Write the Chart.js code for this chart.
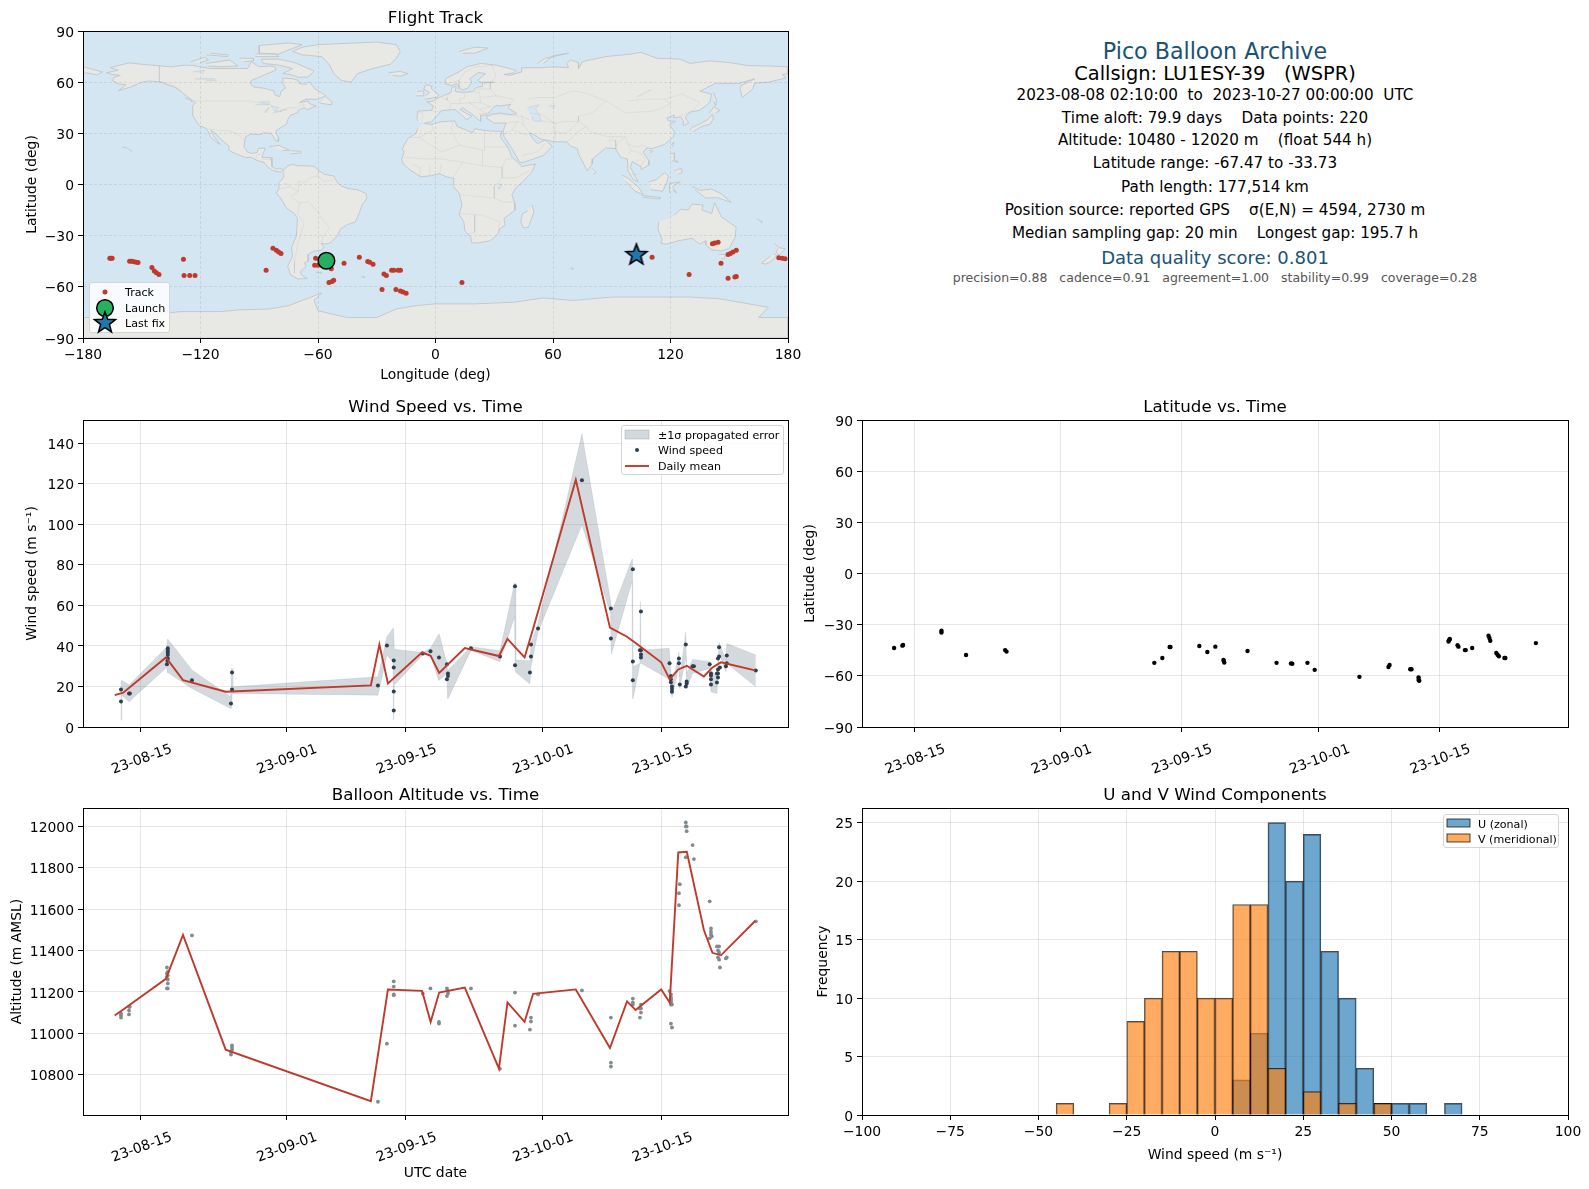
<!DOCTYPE html>
<html><head><meta charset="utf-8">
<script src="https://cdn.jsdelivr.net/npm/chart.js@4"></script>
<style>
html,body{margin:0;padding:0;background:#fff;width:1589px;height:1189px;overflow:hidden;font-family:"DejaVu Sans",sans-serif;color:#000}
canvas{position:absolute}
.t{position:absolute;left:1215px;transform:translate(-50%,-50%);white-space:pre;text-align:center}
.lg{position:absolute;background:rgba(255,255,255,.82);border:1px solid #d5d5d5;border-radius:3px;font-size:11.1px;box-sizing:border-box}
.lg span,.lg svg{position:absolute}
.lg span{white-space:pre;transform:translateY(-50%)}
</style></head><body>
<div id="root"></div>
<script>
// ---------- time axis (days since 2023-08-01) ----------
const dateTickDays = [14, 31, 45, 61, 75];
const dateTickLabels = ['23-08-15', '23-09-01', '23-09-15', '23-10-01', '23-10-15'];

// ---------- daily means ----------
const meanDays = [10.92,11.92,16.92,18.92,23.92,40.92,41.92,42.92,46.92,47.92,48.92,51.92,55.92,56.92,58.92,59.92,64.92,68.92,70.92,71.92,74.92,75.92,76.92,77.92,79.92,80.92,81.92,85.92];
const meanWind = [15.7,16.9,34.3,23.1,17.4,20.5,40.7,21.5,36.8,35.1,26.7,38.9,35,43.5,34.3,48.5,121.9,49,44.5,41.4,31.9,23.5,28.4,30.2,24.9,29.4,31.9,27.9];
const meanAlt = [11086,11115,11263,11475,10921,10672,10942,11212,11205,11055,11197,11221,10829,11149,11055,11191,11212,10929,11154,11113,11212,11149,11874,11877,11499,11389,11377,11543];

// ---------- wind speed samples ----------
const windDays = [11.66,11.66,12.6,12.7,17.14,17.14,17.14,17.14,17.14,17.1,17.04,19.97,24.66,24.66,24.54,41.75,42.8,43.6,43.6,43.6,43.6,47,47.9,48.9,49.83,49.95,49.95,49.83,52.64,56.04,57.8,57.8,59.67,59.67,59.55,60.5,65.64,69.03,69.03,71.6,71.6,71.6,72.55,72.55,72.55,72.55,72.43,75.9,76.06,76.06,76.06,76.18,76.18,76.18,77,77,77.1,77.8,77.8,77.9,77.9,78.6,78.75,80.6,80.75,80.75,80.75,80.75,81.7,81.7,81.57,81.57,81.57,81.57,81.45,81.8,81.45,82.6,82.6,82.5,86];
const windSpeed = [18.5,12.6,16.5,16.5,38.8,37.6,36.6,35.5,33.8,32.7,30.9,23,26.9,18.5,11.6,20.5,40.2,32.8,29.4,17.5,8.1,36.3,37.3,34.3,30.9,26.4,25.1,23.5,38.8,34.8,69.4,30.4,40.7,34.8,26.9,48.6,121.7,58.5,43.7,77.8,32.3,23,57,37.8,35.8,34.3,37.8,31.4,25.1,23.5,22.1,20,18.7,17.4,33.8,31.4,21,40.7,20,22.5,21.5,29.9,29.9,30.9,26.4,25.4,23.5,21,39.3,34.8,33.8,28.4,26.4,24.4,22,29.4,26.4,35.3,31.4,29.9,27.9];

// ---------- +/- 1 sigma band ----------
const bandDays = [11.6,11.72,11.76,12.6,17,17.1,17.18,19.97,24.5,24.6,24.68,24.76,41.75,42.8,43.5,43.58,43.66,47,47.9,48.85,48.93,49.83,49.9,49.98,52.64,56.04,57.75,57.82,57.88,59.55,59.67,60.5,65.64,69,69.08,71.5,71.56,71.64,72.42,72.48,72.56,75.85,76.06,76.18,77,77.1,77.8,77.9,78.6,80.6,80.75,81.45,81.7,82.5,82.6,86];
const bandHigh = [21.5,23.1,23.1,20.7,39.3,43.2,43.2,28.1,14.9,28.9,28.9,19.8,24.8,44.5,48.6,48.6,38.4,36.8,38.8,45.8,45.8,31.4,28.1,28.1,39.6,37.6,70.9,70.9,33,32.7,41.2,51.1,144.6,61.8,56,82.7,82.7,29.7,31.4,61.8,37.9,38.8,26.4,19.8,37.1,24.8,46.7,26.4,33.3,32.2,28.1,24.8,41.7,33,41.2,35.5];
const bandLow = [3.4,3.4,15.7,12.4,29.4,26.7,26.7,19,9.1,9.1,16.5,16.5,15.7,35.5,32,3.4,20.7,35.5,35.5,23.1,23.1,26.4,14.1,14.1,37.9,32.2,54.4,27.2,27.2,21.2,29.7,47,99.7,56,35.8,71.7,14.1,14.1,30.9,31.4,31.4,23.5,19.8,14.6,29.7,19,34.7,19,26.4,28.9,17.4,16.5,36.3,27.2,31.4,19.8];

// ---------- altitude samples ----------
const altDays = [11.66,11.66,11.66,12.6,12.7,12.6,12.6,17.04,17.14,17.04,17.14,17.04,17.14,17.14,17.04,17.14,19.97,24.66,24.66,24.66,24.54,24.54,41.75,42.8,43.6,43.6,43.6,43.6,47,47.9,48.9,48.9,49.83,49.95,49.95,49.83,52.64,56.04,57.8,57.8,59.67,59.67,59.55,60.5,65.64,69.03,69.03,69.03,71.6,71.6,71.6,72.55,72.43,72.55,72.55,72.43,75.9,76.06,76.06,76.06,76.06,76.06,76.06,76.18,76.06,76.18,77,77,77.1,77.8,77.9,77.8,77.9,77.8,78.6,78.75,80.6,80.75,80.75,80.75,80.85,80.6,81.45,81.7,81.57,81.7,81.57,81.7,81.8,82.5,82.6,86];
const altMeters = [11096,11087,11076,11128,11128,11110,11091,11318,11297,11289,11280,11273,11260,11241,11217,11217,11473,10942,10931,10921,10910,10897,10669,10950,11251,11226,11188,11184,11192,11217,11055,11047,11217,11204,11192,11180,11217,10829,11197,11037,11076,11057,11018,11188,11207,11076,10858,10839,11168,11149,11139,11139,11120,11120,11100,11076,11204,11188,11173,11165,11155,11149,11139,11139,11047,11028,11677,11619,11721,12019,12000,12000,11977,11851,11910,11842,11638,11507,11491,11478,11469,11459,11420,11420,11401,11391,11367,11356,11318,11362,11367,11541];

// ---------- latitude samples ----------
const latDays = [11.64,12.6,12.68,17.14,17.14,20,24.54,24.7,41.87,42.8,43.65,43.75,47.1,48.03,48.96,49.9,49.95,50,52.7,56.07,57.75,57.9,59.66,60.5,65.7,69.07,69.2,71.6,71.75,72.57,72.57,72.65,76.05,76.1,76.15,76.2,77.1,77.2,77.95,78.05,78.8,80.7,80.8,80.9,81.6,81.75,81.9,82.55,82.65,86.2];
const latDeg = [-43.7,-42.3,-41.9,-33.6,-34.6,-47.8,-44.9,-45.8,-52.4,-49.5,-43.1,-43.1,-42.5,-46,-42.9,-50.7,-51.3,-52.2,-45.4,-52.4,-52.7,-52.9,-52.4,-56.5,-60.6,-54.8,-53.6,-56.1,-56.1,-61,-62.4,-62.9,-39.9,-39.2,-38.8,-38.4,-42.1,-42.9,-44.9,-44.9,-43.7,-36.5,-37.8,-39.4,-46.6,-47.6,-48.5,-49.5,-49.5,-40.8];

// ---------- histogram ----------
const binStarts = [-45,-30,-25,-20,-15,-10,-5,0,5,10,15,20,25,30,35,40,45,50,55,65];
const uCounts = [0,0,0,0,0,0,0,0,3,7,25,20,24,14,10,4,1,1,1,1];
const vCounts = [1,1,8,10,14,14,10,10,18,18,4,0,2,0,1,0,1,0,0,0];

// ---------- flight track ----------
const trackLon = [-166.3,-165.7,-165.1,-156.2,-155.1,-153.9,-152.8,-151.9,-144.8,-143.6,-142.5,-141.2,-128.7,-128.4,-125.5,-122.8,-86.5,-83,-81.3,-80.1,-78.9,-61.2,-61.7,-60,-58.3,-56.6,-53.2,-46.7,-54.4,-52.8,-52,-38.9,-34.6,-33.6,-31.9,-26.3,-25.1,-22.4,-21.3,-19.1,-17.9,-27.3,-20.2,-17.9,-16.6,-15,13.5,110.6,129.5,141.4,142.6,144.3,149.4,150.6,151.9,153.6,145.8,149.4,152.9,153.6,175.3,177,178.5];
const trackLat = [-43.3,-43.3,-43.3,-45,-45,-45.3,-45.6,-45.8,-48.6,-50.7,-51.7,-52.7,-43.9,-53.3,-53.3,-53.3,-50.3,-37.4,-38.6,-39.6,-40.4,-43.3,-47.4,-47.4,-45.8,-45.3,-49.4,-46.2,-57.4,-56.8,-56.2,-42.7,-45.2,-45.6,-46.8,-52.5,-53.3,-50.3,-50.3,-50.3,-50.3,-61.5,-61.5,-62.5,-63.1,-63.8,-57.4,-42.7,-52.7,-34.7,-34.3,-33.9,-41,-40.4,-39.6,-38.6,-46.2,-55,-54.3,-53.9,-42.9,-43.2,-43.5];
const launchLonLat = [-55.7, -44.7];
const lastFixLonLat = [102.6, -41.3];

// ---------- world map outlines [lon,lat, lon,lat, ...] ----------
const landOutlines = [
[-168,65.5,-164,66.5,-162,67,-166,68.5,-163,69.5,-156.5,71.3,-150,70.5,-141,69.6,-135,69,-128,70,-124,69.8,-115,68,-110,68,-100,68,-96,68,-94,72,-90,69,-85,69.5,-82,69,-81.5,67,-87,64.5,-94,61,-94.5,59,-92.5,57,-88,56.5,-82.5,55,-82,52.5,-79.5,51.5,-79,54.5,-76.5,56.5,-78,59,-78,62.4,-73,62,-70,61,-69.5,59,-66,58.8,-64.5,60.3,-61.5,56,-57,53,-56,52,-60,50,-66.5,50,-69.5,48,-65,49,-64.5,47.5,-61,46,-65.5,43.8,-67,45,-70,43.7,-70.5,42,-74,40.7,-75.5,38,-76,35.5,-78,34,-81,32,-81.5,30.5,-80,27,-80.3,25.3,-81.5,25.5,-82.8,28,-84,30,-88,30.3,-89.5,29.2,-94,29.6,-97,28,-97.5,25,-97.8,22.3,-96,19,-94,18.2,-91,18.8,-90.5,21,-87,21.5,-88,18,-88.7,15.8,-84,15.8,-83.5,12,-83.5,10.5,-81,8.9,-79.5,9.5,-77.5,8.5,-78,7.5,-80,7.3,-83,8.2,-85.5,10,-87.5,13,-91,14,-94,16,-97,15.8,-102,18,-105.5,20,-105.5,22.5,-109,26,-112.5,30,-114.7,31.7,-113,28,-110,23.5,-112,25,-115,28,-116,31,-117.3,33,-120.6,34.5,-122.5,37.7,-124,40.5,-124,46,-122.5,48,-125,50,-130,54.5,-133,57,-137,58.5,-140,60,-146,60.7,-150,60,-152,59,-156,57,-162,55,-158,58.5,-162,59,-165,61,-164,63,-161,64,-165,64.5,-168,65.5],
[-73,78,-68,80.5,-60,82,-45,82.8,-30,83.5,-20,82,-18,78,-20,74,-23,70.5,-32,68,-40,65,-43,60,-48,61,-52,65,-54,70,-58,75,-68,76,-73,78],
[-80,73.5,-72,71.5,-67,69,-62,66.5,-65,63,-70,62.8,-74,64.5,-78,65,-73,68,-80,70,-88,71,-89,73.5,-80,73.5],
[-117,71,-105,73,-101,69.5,-110,69,-116,69.5],[-125,72,-118,74.5,-116,73,-120,71.5],[-90,77,-80,76.5,-77,78,-68,82,-75,83,-90,81.5,-90,77],[-92,75,-80,75,-82,76.5,-92,76.5],[-117,76,-106,75,-106,76,-115,77],[-100,74,-93,74,-93,72.5,-98,72],
[-59,47.7,-53,46.7,-53,48.5,-56,51.5],[-85,22,-80,23,-74.5,20,-78,20],[-74,19.8,-69,19.5,-68.5,18.5,-74,18],[-160,22,-158,21.5,-155,19.5,-155.5,19],[-128,50.8,-124,49,-125,48.5],
[-77.5,8.5,-75.5,11,-72,12,-71.5,11,-68,11,-62,10.7,-60,8.5,-57,6,-52,5,-50,1,-48,-1,-44,-2.5,-40,-3,-35.5,-5.3,-35,-8,-37.5,-12,-39,-17,-41,-22,-45,-23.5,-48.5,-26,-50,-30,-53.5,-34,-56,-35,-58.5,-34.3,-57,-37,-58,-38.5,-62,-39,-65,-41,-65,-45,-67,-46,-66,-48,-69,-51,-68.5,-53,-65.5,-55,-70,-55.5,-74,-53,-75.5,-48,-73,-42,-73.5,-37,-71,-30,-70.5,-20,-72,-17,-76,-14,-79,-8,-81.3,-5,-80,-2.5,-80,1,-77.5,4,-77.5,7],
[-61,-51.5,-58,-51.5,-59,-52.3],[-38,-54,-36,-54.2,-37,-54.8],
[-6,35.8,-2,35.2,3,36.8,10,37.3,11,34,15,32.3,19,30.3,20,32.7,25,31.7,31,31.2,34,31.3,33,28,35.5,24,37.3,21,39,16,43,12,44,10.5,51,12,49,7,45,2,41,-2,39,-6,40.5,-11,40.5,-15,35,-20,35.5,-24,32.7,-26,32,-29,28,-33,22,-34.2,18.5,-34.3,18,-31,15,-27,14.5,-22,12,-17.5,13.5,-12,12,-5,9,-1,9.5,3.5,6,4.3,2,6.3,-3,5,-7.5,4.5,-13,8.5,-16.5,12,-17.3,14.7,-16,19,-17,21,-14,27,-10,30,-9,33],
[49.3,-12,50.3,-16,47.5,-25,45,-25.5,43.5,-22,44.5,-17,47,-15.5],
[-9,37,-9.5,39,-9,43,-2,43.5,-1,46,-4.5,48.5,-1.5,48.8,2,51,4,52,8,54,8.5,57,10.5,57.5,10,54.5,14,54,19,54.5,21,57,24,57.5,24,59.5,30,60,23,60,21.5,61,25.5,65,22,65.7,17.5,62,18.5,60,16.5,56.5,14,55.5,12.8,56,11,59,8,58,5,59,5,62,12,66,16,69,23,71,31,70,41,67,40,65.5,35,64.5,38,64,44,66,44,68.5,54,68.5,60,69,68,68.5,67,71,69,73,73,71.5,73,68,75,72,81,73.5,87,75,100,76.5,105,77.5,113,74,125,73.5,130,71,140,72.5,150,71.5,160,69.7,170,69.5,180,69,180,65,177,64.5,179,62.5,170,60,163,59.5,162,56,156.7,51,155.5,56,156,58,163,62,155,59.3,143,59.3,135,54.7,141,53,140,48,135,43.5,130,42.5,127.5,39.5,129.3,36,126.5,34.5,126.5,37.5,125,39.7,121.5,39,122,40.7,118,39,119,37.3,122.5,37,119.5,35,122,31,121.5,28,117,23.5,110.5,21,108,21.5,106,19,109,14,109,11.5,105,8.7,105,10.5,100.5,13.5,99.5,10,103.5,1.5,101,3,98.3,8,98,15,94.5,16,92,21,87,21.5,80.3,15,80,12,77.5,8,73,18,72.5,21,69,22.5,67,25,61,25,57,26,54,26.5,49,30,48,30,50,26.5,52,24,56,26,59.7,22.5,55,17,45,13,43,13,39,21,35,28,34.5,31.3,36,36,30,36,26.5,38.5,26,40,29,41,33,42,38,41,41.5,41.5,37,45,38.5,47,33,46,31,46.5,28,43,26,40.8,23,40.5,23,37,19.5,40.5,14,45,12.5,44,16,41.5,18.5,40,16,38,10,44,3,43.3,0,39.5,-2,36.8,-5.5,36],
[-180,69,-175,67.5,-170,66,-173,64.3,-178,65.5,-180,65],
[-5.5,50,1,51.2,1.5,52.8,-2,56,-2,57.7,-5,58.6,-6,56,-3,54,-5,52],[-10,52,-6,52,-6,55,-9,54.5],[-24,65.5,-18,66.3,-14,65,-18,63.5,-22,64],[12,78,20,80.5,27,80,20,77,14,77],[52,71,56,74,68,77,60,75.5,55,71],
[142,54,143.5,49,143,46,142,49],[130,32,131,33.5,135,35.5,139,38,141.3,41,142,39,140.5,35.5,136,34,131.5,31],[140,42,142,45.5,145.3,43.5,143,42],
[80,9.5,82,7,80.5,6],[120.2,23,121.8,25,121,22],[109,20,111,19.5,109.5,18.3],[120,18,122,18.5,122,14.5,124,13,120.7,14],[122,8,125.5,9.5,126,7,124,6],
[109,1.5,113,3,117,7,119,5,118,1,116,-4,110,-3],[95.3,5.5,98,4,104,-2,106,-6,102,-4,97,2],[105.5,-6.5,114.5,-7.5,114.5,-8.5,106,-7.5],[119.5,-5,119.5,0.5,125,1.5,121,-1,123,-5,121,-3],
[131,-1,135,-3.5,141,-2.7,146,-5.5,151,-10.5,144,-7.7,138,-8,132.5,-3],
[114,-22,113.5,-26,115.7,-32,115,-34.5,118,-35,124,-33,131,-31.5,135,-35,138,-33,138,-35.5,141,-38.3,146,-39,150,-37.5,153,-31,153.5,-25,146,-19,142.5,-10.7,141,-17,136,-15,136.7,-12,131,-11.5,129,-15,125,-14.5,122,-18],
[145,-41,148,-41,147.5,-43.5,146,-43.5],[173,-34.5,175.5,-37,178.5,-37.7,175.5,-41.5,174,-39.5,175,-37.5],[172.7,-40.6,174.3,-41.7,171,-45.5,168.5,-46.7,166.5,-46,171,-42],[164,-20,167,-22,166,-22.3],[69,-49,70.5,-49.3,69.5,-50],
[-180,-78,-160,-78,-150,-77,-130,-74.5,-110,-74.5,-100,-73.5,-85,-73,-75,-71,-68,-68,-58,-63.5,-62,-68,-60,-74,-45,-78,-30,-78,-20,-73,-10,-71,0,-70,20,-70,40,-69,55,-66.5,70,-68,80,-67,90,-66,110,-66,130,-66,145,-67,160,-70,170,-72,165,-78,180,-78,180,-90,-180,-90]
];
const waterOutlines = [
[47,45,53,46.8,51,44.5,53,41,54,37,50,37.3,49,40],[-92,46.7,-85,47,-85,48.5,-89,48.5],[-87.5,42,-85,45.5,-86.5,42],[-84,46,-80,45,-82,43],[-83,42,-79,43,-79,42.5],[-79.5,43.5,-76,44,-76.5,43.3],[-123,62,-113,62,-112,61,-117,60.7],[-124,66,-118,67,-119,65],[58,46,61,46.5,60,44],[103,51.5,110,55.5,109,55],[32,0.5,34,0,33,-2.5,31.5,-2]
];
const borderLines = [
[-141,69.6,-141,60.3,-135,59,-130,55],[-123,49,-95,49,-89,48,-84,46.5,-82.5,43,-79,43,-75,45,-71,45,-67.5,47.3,-67,45],[-117,32.5,-108,31.5,-106,31.7,-101,29.5,-97.3,25.9],[-92,14.5,-91,17.5,-89,17.9],[-89,14.5,-83.5,15],
[-70.5,-18,-69.5,-11,-74,-7,-70,-4,-70,2,-67,1,-64,4,-60,5,-60,8],[-70,-18,-67,-23,-70,-33,-72,-45,-72,-52],[-57.5,-30,-54,-26,-58,-20,-60,-16,-65,-10,-70,-11],[-58,-34,-57.5,-30],[-80,-3,-75,-1,-70,-4],[-77.5,1,-75,0],[-60,5,-57,2,-52,2.5],
[-8.5,27.5,-1,32,-2,35],[-13,27.7,-8.5,27.5,3,19,12,23,25,20,25,32],[9,37,8,32,12,23],[25,22,37,22],[-16,16,-5,15,3,15,14,13,24,11,24,20],[14,13,9,4],[24,11,34,10,36,15,39,15],[34,10,34,4,41,4,48,8],[30,-1,34,4],[30,-1,30,-8,12,-6],[30,-8,34,-10,40,-10.5],[12,-17,24,-18,33,-22,32,-26],[20,-18,20,-28,17,-29],[-8,4.5,-8,10,-12,12],[-3,5,-3,11],[2,6,3,12],
[-2,43.3,3,42.4],[-9,42,-6.5,42,-7,37.2],[3,51,6,49.5,8,47.5,7,44],[7,53.5,6,51,6,49.5],[14.5,54,15,51,12,50,13,47.5,8,47.5],[13,47.5,17,48,23,48,22.5,54,19,54.5],[23,48,28,45.5,22,44,20,46,17,48],[28,45.5,30,46],[22,41.5,26,41.5],[26,41.5,22.5,44],[24,51,31,52,40,50,38,47.5],[28,56,31,52],[28,60,28,56,21,56],[5,59,12,61,15,66,20,69,25,69,29,70],[12,61,12,56],[29,70,31,63,28,60],[26,42,44,40,48,38],[44,40,45,35,48,30],[36,36,42,37,45,35],[35,29.5,39,32,42,37],[39,32,47,29],[44,17,52,19,56,24],[61,25,61,31,61,36,54,37.5],[48,42,54,41,61,36,66,37,73,37],[47,50,52,51,61,51,70,55,77,53.5,87,49,97,42,111,43,120,47,117,50,126,53,135,48,131,43],[87,49,80,42,73,40,73,37,77,34,79,31,88,28,97,28,98,24,102,22,106,23,108,21.5],[61,31,66,30,71,34,73,37],[67,25,70,28,74,32,77,34],[88,26,92,26,92,21],[97,28,93,24,92,21],[98,24,100,20,98,17],[100,20,105,18,107,15,105,11],[102,14,105,14.5],[98,49,108,50,117,50],[124.5,40,130,42.5],[100,6,103,6]
];

// ---------- tick lists ----------
const lonTicks = [-180,-120,-60,0,60,120,180];
const latTicks = [-90,-60,-30,0,30,60,90];
const windTicks = [0,20,40,60,80,100,120,140];
const altTicks = [10800,11000,11200,11400,11600,11800,12000];
const histXTicks = [-100,-75,-50,-25,0,25,50,75,100];
const histYTicks = [0,5,10,15,20,25];

// ---------- helpers ----------
Chart.defaults.font.family = '"DejaVu Sans", sans-serif';
Chart.defaults.font.size = 13.9;
Chart.defaults.color = '#000';
Chart.defaults.animation = false;

const RED = '#c0392b';
const GRID = 'rgba(176,176,176,.32)';
const MAP_GRID = 'rgba(120,120,120,.17)';
const BAND = 'rgba(120,140,150,.33)';
const TITLE_H = 25;

const zip = (xs, ys) => xs.map((x, i) => ({x, y: ys[i]}));
const outline = lists => {
  const out = [];
  for (const l of lists) {
    for (let i = 0; i < l.length; i += 2) out.push({x: l[i], y: l[i + 1]});
    out.push({x: null, y: null});
  }
  return out;
};
const framePlugin = {id: 'frame', afterDraw(c) {
  const a = c.chartArea, g = c.ctx;
  g.save(); g.strokeStyle = '#000'; g.lineWidth = 1;
  const l = Math.round(a.left) + .5, t = Math.round(a.top) + .5;
  g.strokeRect(l, t, Math.round(a.right) - Math.round(a.left), Math.round(a.bottom) - Math.round(a.top)); g.restore();
}};
const oceanPlugin = {id: 'ocean', beforeDraw(c) {
  const a = c.chartArea, g = c.ctx;
  g.save(); g.fillStyle = '#d4e6f1'; g.fillRect(a.left, a.top, a.right - a.left, a.bottom - a.top); g.restore();
}};

function axis(opts) {
  const {min, max, ticks, fit, title, dateLabels, gridExtra, tickExtra} = opts;
  const o = {
    type: 'linear', min, max, offset: false,
    grid: Object.assign({color: GRID, lineWidth: 1, tickColor: '#000', tickLength: 5, tickWidth: 1, offset: false}, gridExtra || {}),
    border: Object.assign({color: '#000', width: 1}, opts.borderExtra || {}),
    ticks: Object.assign({
      padding: 4, autoSkip: false, maxRotation: 0, minRotation: 0, color: '#000',
      callback: v => dateLabels ? dateTickLabels[dateTickDays.indexOf(v)] : String(v).replace('-', '\u2212')
    }, tickExtra || {}),
    afterBuildTicks: s => { s.ticks = ticks.map(v => ({value: v})); },
    afterFit: s => { if (s.isHorizontal()) s.height = fit; else s.width = fit; }
  };
  if (title) o.title = {display: true, text: title, padding: 0, color: '#000', font: {size: 13.9}};
  return o;
}

function panel(id, box, titleText, xs, ys, datasets, plugins) {
  const c = document.createElement('canvas');
  const pad = 30;
  const w = box.right - box.left + pad;
  const h = box.bottom - box.axTop + TITLE_H;
  c.width = w; c.height = h;
  c.style.cssText = `left:${box.left}px;top:${box.axTop - TITLE_H}px;width:${w}px;height:${h}px`;
  c.id = id;
  document.getElementById('root').appendChild(c);
  return new Chart(c, {
    type: 'line',
    data: {datasets},
    options: {
      responsive: false, devicePixelRatio: 1, events: [],
      layout: {padding: {right: pad, left: 0, top: 0, bottom: 0}},
      scales: {x: xs, y: ys},
      elements: {line: {tension: 0}},
      plugins: {
        legend: {display: false}, tooltip: {enabled: false},
        title: {display: true, text: titleText, fullSize: false, color: '#000', font: {size: 16.67, weight: 'normal'}, padding: {top: 3, bottom: 2}}
      }
    },
    plugins: [framePlugin].concat(plugins || [])
  });
}

function starCanvas(r) {
  const s = document.createElement('canvas'); s.width = s.height = 2 * r + 6;
  const g = s.getContext('2d'); g.translate(r + 3, r + 3); g.beginPath();
  for (let i = 0; i < 10; i++) {
    const a = -Math.PI / 2 + i * Math.PI / 5, q = i % 2 ? r * 0.42 : r;
    g[i ? 'lineTo' : 'moveTo'](q * Math.cos(a), q * Math.sin(a));
  }
  g.closePath(); g.fillStyle = '#2176ae'; g.strokeStyle = '#000'; g.lineWidth = 1.6; g.lineJoin = 'miter';
  g.fill(); g.stroke(); return s;
}

// ---------- layout ----------
const TIME_MIN = 7.21, TIME_MAX = 89.77, LAT_TIME_MIN = 7.91, LAT_TIME_MAX = 89.93;
const rotTicks = {minRotation: 20, maxRotation: 20, labelOffset: 30.5, padding: 9};
const yTicks = {labelOffset: 2};

// ---------- map ----------
panel('map', {left: 24, right: 788, axTop: 31, bottom: 338 + 46}, 'Flight Track',
  axis({min: -180, max: 180, ticks: lonTicks, fit: 46, title: 'Longitude (deg)', gridExtra: {z: 1, color: MAP_GRID}, borderExtra: {dash: [3, 2], z: 2}}),
  axis({min: -90, max: 90, ticks: latTicks, fit: 59, title: 'Latitude (deg)', gridExtra: {z: 1, color: MAP_GRID}, borderExtra: {dash: [3, 2], z: 2}, tickExtra: yTicks}),
  [
    {label: 'Launch', data: [{x: launchLonLat[0], y: launchLonLat[1]}], showLine: false, pointRadius: 8.3, pointBackgroundColor: '#27ae60', pointBorderColor: '#000', pointBorderWidth: 1.5, order: 1},
    {label: 'Last fix', data: [{x: lastFixLonLat[0], y: lastFixLonLat[1]}], showLine: false, pointStyle: starCanvas(11), order: 1},
    {label: 'Track', data: zip(trackLon, trackLat), showLine: false, pointRadius: 2.5, pointBorderWidth: 0, pointBackgroundColor: RED, order: 2},
    {label: 'Borders', data: outline(borderLines), borderColor: 'rgba(170,170,165,.25)', borderWidth: 0.7, pointRadius: 0, order: 3},
    {label: 'Water', data: outline(waterOutlines), fill: 'shape', backgroundColor: '#d4e6f1', borderColor: '#c3ccd1', borderWidth: 0.6, pointRadius: 0, order: 4},
    {label: 'Land', data: outline(landOutlines), fill: 'shape', backgroundColor: '#e8e8e4', borderColor: '#bfc6ca', borderWidth: 0.9, pointRadius: 0, order: 5}
  ], [oceanPlugin]);

// ---------- wind ----------
panel('wind', {left: 24, right: 788, axTop: 420, bottom: 727 + 60}, 'Wind Speed vs. Time',
  axis({min: TIME_MIN, max: TIME_MAX, ticks: dateTickDays, fit: 60, dateLabels: true, tickExtra: rotTicks}),
  axis({min: 0, max: 151.4, ticks: windTicks, fit: 59, title: 'Wind speed (m s⁻¹)', tickExtra: yTicks}),
  [
    {label: '+1σ', data: zip(bandDays, bandHigh), borderColor: BAND, borderWidth: 0.5, pointRadius: 0, order: 5},
    {label: '±1σ propagated error', data: zip(bandDays, bandLow), fill: '-1', backgroundColor: BAND, borderColor: BAND, borderWidth: 0.5, pointRadius: 0, order: 4},
    {label: 'Wind speed', data: zip(windDays, windSpeed), showLine: false, pointRadius: 2, pointBorderWidth: 0, pointBackgroundColor: '#2c3e50', order: 2},
    {label: 'Daily mean', data: zip(meanDays, meanWind), borderColor: RED, borderWidth: 1.9, pointRadius: 0, order: 1}
  ]);

// ---------- latitude ----------
panel('lat', {left: 802, right: 1568, axTop: 420, bottom: 727 + 60}, 'Latitude vs. Time',
  axis({min: LAT_TIME_MIN, max: LAT_TIME_MAX, ticks: dateTickDays, fit: 60, dateLabels: true, tickExtra: rotTicks}),
  axis({min: -90, max: 90, ticks: latTicks, fit: 60, title: 'Latitude (deg)', tickExtra: yTicks}),
  [{label: 'Latitude', data: zip(latDays, latDeg), showLine: false, pointRadius: 2.2, pointBorderWidth: 0, pointBackgroundColor: '#000'}]);

// ---------- altitude ----------
panel('alt', {left: 9, right: 788, axTop: 808, bottom: 1115 + 67}, 'Balloon Altitude vs. Time',
  axis({min: TIME_MIN, max: TIME_MAX, ticks: dateTickDays, fit: 67, dateLabels: true, title: 'UTC date', tickExtra: rotTicks}),
  axis({min: 10605, max: 12089, ticks: altTicks, fit: 74, title: 'Altitude (m AMSL)', tickExtra: yTicks}),
  [
    {label: 'Altitude', data: zip(altDays, altMeters), showLine: false, pointRadius: 1.9, pointBorderWidth: 0, pointBackgroundColor: '#7f8c8d', order: 2},
    {label: 'Daily mean', data: zip(meanDays, meanAlt), borderColor: RED, borderWidth: 1.9, pointRadius: 0, order: 1}
  ]);

// ---------- histogram ----------
const binWidth = 5;
const histData = counts => binStarts.map((b, i) => ({x: b + binWidth / 2, y: counts[i]})).filter(p => p.y > 0);
panel('hist', {left: 815, right: 1568, axTop: 808, bottom: 1115 + 49}, 'U and V Wind Components',
  axis({min: -100, max: 100, ticks: histXTicks, fit: 49, title: 'Wind speed (m s⁻¹)'}),
  axis({min: 0, max: 26.25, ticks: histYTicks, fit: 47, title: 'Frequency', tickExtra: yTicks}),
  [
    {type: 'bar', label: 'U (zonal)', data: histData(uCounts), backgroundColor: 'rgba(31,119,180,.65)', borderColor: 'rgba(0,0,0,.7)', borderWidth: 1, barPercentage: 1, categoryPercentage: 1, grouped: false, order: 2},
    {type: 'bar', label: 'V (meridional)', data: histData(vCounts), backgroundColor: 'rgba(255,127,14,.65)', borderColor: 'rgba(0,0,0,.7)', borderWidth: 1, barPercentage: 1, categoryPercentage: 1, grouped: false, order: 1}
  ]);

// ---------- info panel ----------
const infoLines = [
  ['Pico Balloon Archive', 50.7, 22.2, '#1a5276'],
  ['Callsign: LU1ESY-39   (WSPR)', 73, 19.4, '#000'],
  ['2023-08-08 02:10:00  to  2023-10-27 00:00:00  UTC', 94.5, 15.2, '#000'],
  ['Time aloft: 79.9 days    Data points: 220', 117.6, 15.2, '#000'],
  ['Altitude: 10480 - 12020 m    (float 544 h)', 140, 15.2, '#000'],
  ['Latitude range: -67.47 to -33.73', 163.2, 15.2, '#000'],
  ['Path length: 177,514 km', 186.5, 15.2, '#000'],
  ['Position source: reported GPS    σ(E,N) = 4594, 2730 m', 209.6, 15.2, '#000'],
  ['Median sampling gap: 20 min    Longest gap: 195.7 h', 232.5, 15.2, '#000'],
  ['Data quality score: 0.801', 257.4, 18, '#1a5276'],
  ['precision=0.88   cadence=0.91   agreement=1.00   stability=0.99   coverage=0.28', 277, 12.5, '#555']
];
const root = document.getElementById('root');
for (const [txt, y, size, color] of infoLines) {
  const d = document.createElement('div'); d.className = 't'; d.textContent = txt;
  d.style.top = y + 'px'; d.style.fontSize = size + 'px'; d.style.color = color;
  root.appendChild(d);
}

// ---------- legends ----------
function legend(box, rows) {
  const d = document.createElement('div'); d.className = 'lg';
  d.style.cssText = `left:${box[0]}px;top:${box[1]}px;width:${box[2]}px;height:${box[3]}px`;
  for (const [label, hy, tx, svg] of rows) {
    d.insertAdjacentHTML('beforeend', svg + `<span style="left:${tx}px;top:${hy}px">${label}</span>`);
  }
  root.appendChild(d);
}
const svgAt = (x, y, w, h, inner) => `<svg style="left:${x}px;top:${y}px;overflow:visible" width="${w}" height="${h}">${inner}</svg>`;
legend([89, 282, 81, 51], [
  ['Track', 9, 35, svgAt(15, 9, 1, 1, `<circle r="2.5" fill="${RED}"/>`)],
  ['Launch', 25, 35, svgAt(15, 25, 1, 1, '<circle r="8.3" fill="#27ae60" stroke="#000" stroke-width="1.5"/>')],
  ['Last fix', 40, 35, svgAt(15, 40, 1, 1, '<polygon points="0,-11 2.7,-3.7 10.5,-3.4 4.4,1.4 6.5,8.9 0,4.6 -6.5,8.9 -4.4,1.4 -10.5,-3.4 -2.7,-3.7" fill="#2176ae" stroke="#000" stroke-width="1.5"/>')]
]);
legend([621, 425, 163, 50], [
  ['±1σ propagated error', 9, 36, svgAt(3, 4, 24, 10, `<rect width="24" height="9" fill="${BAND}" stroke="${BAND}"/>`)],
  ['Wind speed', 24, 36, svgAt(15, 24, 1, 1, '<circle r="2" fill="#2c3e50"/>')],
  ['Daily mean', 40, 36, svgAt(3, 40, 24, 1, `<line x1="0" x2="24" y1="0" y2="0" stroke="${RED}" stroke-width="1.9"/>`)]
]);
legend([1443, 814, 116, 34], [
  ['U (zonal)', 9, 34, svgAt(3, 4, 23, 9, '<rect width="23" height="8" fill="rgba(31,119,180,.65)" stroke="rgba(0,0,0,.7)"/>')],
  ['V (meridional)', 24, 34, svgAt(3, 19, 23, 9, '<rect width="23" height="8" fill="rgba(255,127,14,.65)" stroke="rgba(0,0,0,.7)"/>')]
]);
</script>
</body></html>
